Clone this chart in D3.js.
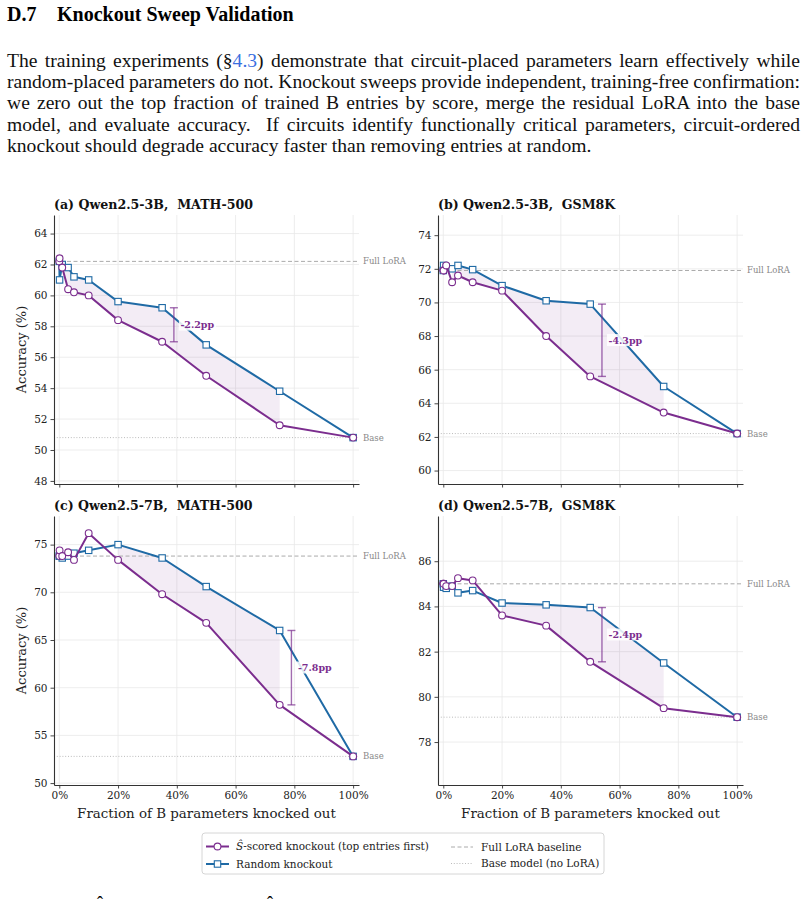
<!DOCTYPE html>
<meta charset="utf-8">
<style>
body { margin: 0; background: #fff; }
svg { display: block; }
</style>
<svg width="806" height="901"></svg>
<script src="https://d3js.org/d3.v7.min.js"></script>
<script>

// fraction of B entries knocked out
var fracs = [0, 0.001, 0.01, 0.03, 0.05, 0.1, 0.2, 0.35, 0.5, 0.75, 1.0];

var panelTitles = [
  "(a) Qwen2.5-3B,  MATH-500",
  "(b) Qwen2.5-3B,  GSM8K",
  "(c) Qwen2.5-7B,  MATH-500",
  "(d) Qwen2.5-7B,  GSM8K"
];

// S-hat scored knockout (top entries first)
var scoredAcc = [
  [62.2, 62.4, 61.8, 60.4, 60.2, 60.0, 58.4, 57.0, 54.8, 51.6, 50.8],
  [71.9, 71.9, 72.2, 71.2, 71.6, 71.2, 70.7, 68.0, 65.6, 63.45, 62.2],
  [73.8, 74.4, 73.8, 74.2, 73.4, 76.2, 73.4, 69.8, 66.8, 58.2, 52.8],
  [85.0, 85.0, 84.9, 84.9, 85.25, 85.15, 83.6, 83.15, 81.55, 79.5, 79.1]
];

// random knockout
var randomAcc = [
  [62.2, 61.0, 62.0, 61.8, 61.2, 61.0, 59.6, 59.2, 56.8, 53.8, 50.8],
  [71.9, 72.2, 72.1, 72.0, 72.2, 71.95, 71.0, 70.1, 69.9, 65.0, 62.2],
  [73.8, 73.8, 73.6, 73.8, 74.1, 74.4, 75.0, 73.6, 70.6, 66.0, 52.8],
  [85.0, 84.85, 84.8, 84.9, 84.6, 84.7, 84.15, 84.07, 83.95, 81.5, 79.1]
];

var fullLora = [62.2, 71.9, 73.8, 85.0];
var baseAcc = [50.8, 62.2, 52.8, 79.1];
var gapAt = [0.35, 0.5, 0.75, 0.5];

var yTicks = [
  [48, 50, 52, 54, 56, 58, 60, 62, 64],
  [60, 62, 64, 66, 68, 70, 72, 74],
  [50, 55, 60, 65, 70, 75],
  [78, 80, 82, 84, 86]
];
var yLims = [[47.8, 65.2], [59.2, 75.2], [49.8, 78.0], [76.1, 88.0]];
var xTicks = [0, 0.2, 0.4, 0.6, 0.8, 1.0];

var purple = "#7b2d8e",
    blue = "#1f6aa5",
    serif = "DejaVu Serif, serif",
    times = "Liberation Serif, Times New Roman, serif";

var svg = d3.select("svg");

// ---- header text ----
svg.append("text")
    .attr("x", 7).attr("y", 21)
    .attr("font-family", times).attr("font-weight", "bold").attr("font-size", 20)
    .text("D.7");
svg.append("text")
    .attr("x", 57).attr("y", 21)
    .attr("font-family", times).attr("font-weight", "bold").attr("font-size", 20)
    .text("Knockout Sweep Validation");

var paraLines = [
  [["The training experiments (§", null], ["4.3", "#3b6fe0"], [") demonstrate that circuit-placed parameters learn effectively while", null]],
  [["random-placed parameters do not. Knockout sweeps provide independent, training-free confirmation:", null]],
  [["we zero out the top fraction of trained B entries by score, merge the residual LoRA into the base", null]],
  [["model, and evaluate accuracy.  If circuits identify functionally critical parameters, circuit-ordered", null]],
  [["knockout should degrade accuracy faster than removing entries at random.", null]]
];

paraLines.forEach(function(parts, i) {
  var t = svg.append("text")
      .attr("x", 7).attr("y", 67 + i * 21.2)
      .attr("font-family", times).attr("font-size", 19.6)
      .attr("fill", "#111")
      .style("white-space", "pre");
  parts.forEach(function(p) {
    t.append("tspan").attr("fill", p[1] || "#111").text(p[0]);
  });
  if (i < paraLines.length - 1) {
    // justify: spread the leftover width over the word gaps
    var natural = t.node().getComputedTextLength();
    var spaces = parts.map(function(p) { return p[0]; }).join("").split(" ").length - 1;
    t.attr("word-spacing", (793 - natural) / spaces);
  }
});

// ---- panels ----
var colLeft = [54, 438], colW = 305;
var rowTop = [215, 516], rowH = 269;

panelTitles.forEach(function(title, i) {
  var col = i % 2, row = Math.floor(i / 2);
  var w = colW, h = rowH;
  var g = svg.append("g")
      .attr("transform", "translate(" + colLeft[col] + "," + rowTop[row] + ")");

  var x = d3.scaleLinear().domain([-0.018, 1.02]).range([0, w]);
  var y = d3.scaleLinear().domain(yLims[i]).range([h, 0]);

  // grid
  g.append("g").selectAll("line").data(yTicks[i]).enter().append("line")
      .attr("x1", 0).attr("x2", w)
      .attr("y1", function(d) { return y(d); }).attr("y2", function(d) { return y(d); })
      .attr("stroke", "#e9e9e9").attr("stroke-width", 0.8);
  g.append("g").selectAll("line").data(xTicks).enter().append("line")
      .attr("y1", 0).attr("y2", h)
      .attr("x1", function(d) { return x(d); }).attr("x2", function(d) { return x(d); })
      .attr("stroke", "#e9e9e9").attr("stroke-width", 0.8);

  var pts = fracs.map(function(f, j) {
    return { f: f, s: scoredAcc[i][j], r: randomAcc[i][j] };
  });

  // shaded gap where random stays above scored
  var area = d3.area()
      .defined(function(d) { return d.r > d.s; })
      .x(function(d) { return x(d.f); })
      .y0(function(d) { return y(d.s); })
      .y1(function(d) { return y(d.r); });
  g.append("path").datum(pts)
      .attr("d", area)
      .attr("fill", purple).attr("fill-opacity", 0.09);

  // reference lines
  g.append("line")
      .attr("x1", 0).attr("x2", w)
      .attr("y1", y(fullLora[i])).attr("y2", y(fullLora[i]))
      .attr("stroke", "#aaa").attr("stroke-width", 1).attr("stroke-dasharray", "4,2.5");
  g.append("line")
      .attr("x1", 0).attr("x2", w)
      .attr("y1", y(baseAcc[i])).attr("y2", y(baseAcc[i]))
      .attr("stroke", "#bbb").attr("stroke-width", 1).attr("stroke-dasharray", "1,1.8");
  g.append("text")
      .attr("x", w + 4).attr("y", y(fullLora[i])).attr("dy", "0.35em")
      .attr("font-family", serif).attr("font-size", 8.5).attr("fill", "#888")
      .text("Full LoRA");
  g.append("text")
      .attr("x", w + 4).attr("y", y(baseAcc[i])).attr("dy", "0.35em")
      .attr("font-family", serif).attr("font-size", 8.5).attr("fill", "#888")
      .text("Base");

  // axes
  var yAxis = g.append("g")
      .call(d3.axisLeft(y).tickValues(yTicks[i]).tickSize(3.5).tickSizeOuter(0).tickPadding(3));
  var xAxis = g.append("g")
      .attr("transform", "translate(0," + h + ")")
      .call(d3.axisBottom(x).tickValues(xTicks).tickSize(3.5).tickSizeOuter(0).tickPadding(3)
        .tickFormat(function(d) { return row == 1 ? Math.round(d * 100) + "%" : ""; }));
  [yAxis, xAxis].forEach(function(a) {
    a.select(".domain").attr("stroke", "#333").attr("stroke-width", 1.1);
    a.selectAll(".tick line").attr("stroke", "#333").attr("stroke-width", 0.9);
    a.selectAll(".tick text")
        .attr("font-family", serif).attr("font-size", 10.5).attr("fill", "#222");
  });

  // series lines
  var lineR = d3.line().x(function(d) { return x(d.f); }).y(function(d) { return y(d.r); });
  var lineS = d3.line().x(function(d) { return x(d.f); }).y(function(d) { return y(d.s); });

  g.append("path").datum(pts).attr("d", lineR)
      .attr("fill", "none").attr("stroke", blue).attr("stroke-width", 2)
      .attr("stroke-linejoin", "round");
  g.append("g").selectAll("rect").data(pts).enter().append("rect")
      .attr("x", function(d) { return x(d.f) - 3.2; })
      .attr("y", function(d) { return y(d.r) - 3.2; })
      .attr("width", 6.4).attr("height", 6.4)
      .attr("fill", "#fff").attr("stroke", blue).attr("stroke-width", 1.1);

  g.append("path").datum(pts).attr("d", lineS)
      .attr("fill", "none").attr("stroke", purple).attr("stroke-width", 2)
      .attr("stroke-linejoin", "round");
  g.append("g").selectAll("circle").data(pts).enter().append("circle")
      .attr("cx", function(d) { return x(d.f); })
      .attr("cy", function(d) { return y(d.s); })
      .attr("r", 3.4)
      .attr("fill", "#fff").attr("stroke", purple).attr("stroke-width", 1.1);

  // gap annotation
  var k = fracs.indexOf(gapAt[i]);
  var s = scoredAcc[i][k], r = randomAcc[i][k];
  var bx = x(gapAt[i] + 0.04);
  var bar = g.append("g").attr("stroke", purple).attr("stroke-opacity", 0.7).attr("stroke-width", 1.4);
  bar.append("line").attr("x1", bx).attr("x2", bx).attr("y1", y(s)).attr("y2", y(r));
  bar.append("line").attr("x1", bx - 4).attr("x2", bx + 4).attr("y1", y(s)).attr("y2", y(s));
  bar.append("line").attr("x1", bx - 4).attr("x2", bx + 4).attr("y1", y(r)).attr("y2", y(r));

  var lab = g.append("text")
      .attr("x", bx + 6.5).attr("y", y((s + r) / 2)).attr("dy", "0.35em")
      .attr("font-family", serif).attr("font-weight", "bold").attr("font-size", 9.5)
      .attr("fill", purple)
      .text("-" + (r - s).toFixed(1) + "pp");
  var bb = lab.node().getBBox();
  g.insert("rect", function() { return lab.node(); })
      .attr("x", bb.x - 1.5).attr("y", bb.y - 0.5)
      .attr("width", bb.width + 3).attr("height", bb.height + 1)
      .attr("fill", "#fff").attr("fill-opacity", 0.85);

  // title
  g.append("text")
      .attr("x", 0).attr("y", -6.5)
      .attr("font-family", serif).attr("font-weight", "bold").attr("font-size", 12.6)
      .attr("fill", "#111")
      .style("white-space", "pre")
      .text(title);

  if (col == 0) {
    g.append("text")
        .attr("transform", "translate(" + (21 - colLeft[0]) + "," + (h / 2) + ") rotate(-90)")
        .attr("text-anchor", "middle").attr("dy", "0.35em")
        .attr("font-family", serif).attr("font-size", 13).attr("fill", "#222")
        .text("Accuracy (%)");
  }
  if (row == 1) {
    g.append("text")
        .attr("x", w / 2).attr("y", h + 33)
        .attr("text-anchor", "middle")
        .attr("font-family", serif).attr("font-size", 13.4).attr("fill", "#222")
        .text("Fraction of B parameters knocked out");
  }
});

// ---- legend ----
var leg = svg.append("g").attr("transform", "translate(202,833)");
leg.append("rect")
    .attr("width", 402).attr("height", 41).attr("rx", 3)
    .attr("fill", "#fff").attr("stroke", "#ccc").attr("stroke-width", 0.8);

function legText(xp, yp) {
  return leg.append("text").attr("x", xp).attr("y", yp).attr("dy", "0.35em")
      .attr("font-family", serif).attr("font-size", 10.5).attr("fill", "#222");
}

leg.append("line").attr("x1", 4).attr("x2", 27).attr("y1", 13.5).attr("y2", 13.5)
    .attr("stroke", purple).attr("stroke-width", 2);
leg.append("circle").attr("cx", 15.5).attr("cy", 13.5).attr("r", 3.4)
    .attr("fill", "#fff").attr("stroke", purple).attr("stroke-width", 1.1);
var t1 = legText(34, 13.5);
t1.append("tspan").attr("font-style", "italic").text("Ŝ");
t1.append("tspan").text("-scored knockout (top entries first)");

leg.append("line").attr("x1", 4).attr("x2", 27).attr("y1", 31).attr("y2", 31)
    .attr("stroke", blue).attr("stroke-width", 2);
leg.append("rect").attr("x", 12.3).attr("y", 27.8).attr("width", 6.4).attr("height", 6.4)
    .attr("fill", "#fff").attr("stroke", blue).attr("stroke-width", 1.1);
legText(34, 31).text("Random knockout");

leg.append("line").attr("x1", 249).attr("x2", 271).attr("y1", 14).attr("y2", 14)
    .attr("stroke", "#aaa").attr("stroke-width", 1).attr("stroke-dasharray", "4,2.5");
legText(279, 14).text("Full LoRA baseline");
leg.append("line").attr("x1", 249).attr("x2", 271).attr("y1", 30.5).attr("y2", 30.5)
    .attr("stroke", "#bbb").attr("stroke-width", 1).attr("stroke-dasharray", "1,1.8");
legText(279, 30.5).text("Base model (no LoRA)");

// cut-off hats of the next text line
svg.append("text").attr("x", 97).attr("y", 909)
    .attr("font-family", times).attr("font-size", 18).text("ˆ");
svg.append("text").attr("x", 267).attr("y", 909)
    .attr("font-family", times).attr("font-size", 18).text("ˆ");

</script>
